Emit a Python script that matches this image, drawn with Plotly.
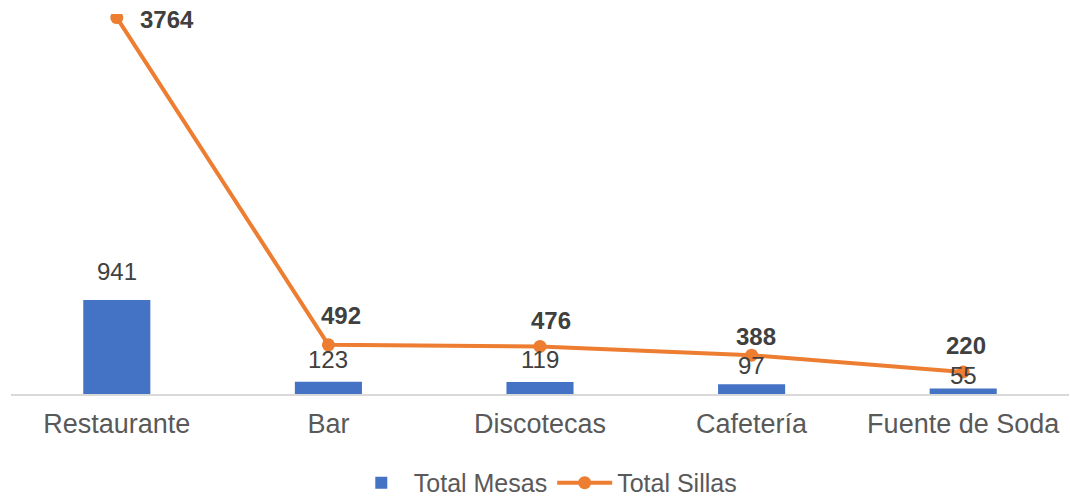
import plotly.graph_objects as go

categories = ["Restaurante", "Bar", "Discotecas", "Cafetería", "Fuente de Soda"]
total_mesas = [941, 123, 119, 97, 55]
total_sillas = [3764, 492, 476, 388, 220]

# label offsets in pixels (layout only)
mesas_label_yshift = [28, 22, 23, 19, 13]
sillas_label_shift = [(50, -2), (13, 29), (11, 26), (4, 19), (3, 27)]

BLUE = "#4472C4"
ORANGE = "#ED7D31"
FONT = "Liberation Sans, Arial, sans-serif"

fig = go.Figure()
fig.add_trace(go.Bar(
    x=categories, y=total_mesas, name="Total Mesas",
    marker=dict(color=BLUE, line=dict(width=0)),
))
fig.add_trace(go.Scatter(
    x=categories, y=total_sillas, name="Total Sillas", mode="lines+markers",
    line=dict(color=ORANGE, width=4), marker=dict(color=ORANGE, size=13),
))

annotations = []
for c, v, ys in zip(categories, total_mesas, mesas_label_yshift):
    annotations.append(dict(x=c, y=v, text=str(v), showarrow=False, yshift=ys,
                            font=dict(family=FONT, size=24, color="#404040")))
for c, v, (xs, ys) in zip(categories, total_sillas, sillas_label_shift):
    annotations.append(dict(x=c, y=v, text="<b>%d</b>" % v, showarrow=False,
                            xshift=xs, yshift=ys,
                            font=dict(family=FONT, size=24, color="#404040")))

fig.update_layout(
    width=1070, height=496,
    margin=dict(l=11, r=1, t=14, b=102, autoexpand=False),
    paper_bgcolor="white", plot_bgcolor="white",
    bargap=0.683,
    font=dict(family=FONT, size=25, color="#595959"),
    showlegend=True,
    legend=dict(orientation="h", x=0.505, xanchor="center", y=-0.234, yanchor="middle",
                font=dict(family=FONT, size=25, color="#595959"),
                itemwidth=55, tracegroupgap=0),
    annotations=annotations,
)
fig.update_xaxes(showline=True, linecolor="#D9D9D9", linewidth=2, showgrid=False,
                 ticks="", ticklabelstandoff=5,
                 tickfont=dict(family=FONT, size=27, color="#595959"))
fig.update_yaxes(range=[0, 3800], visible=False, showgrid=False, zeroline=False)

fig.write_html("out.html",
               post_script="document.documentElement.style.margin='0';document.body.style.margin='0';",
               config={"displayModeBar": False})
